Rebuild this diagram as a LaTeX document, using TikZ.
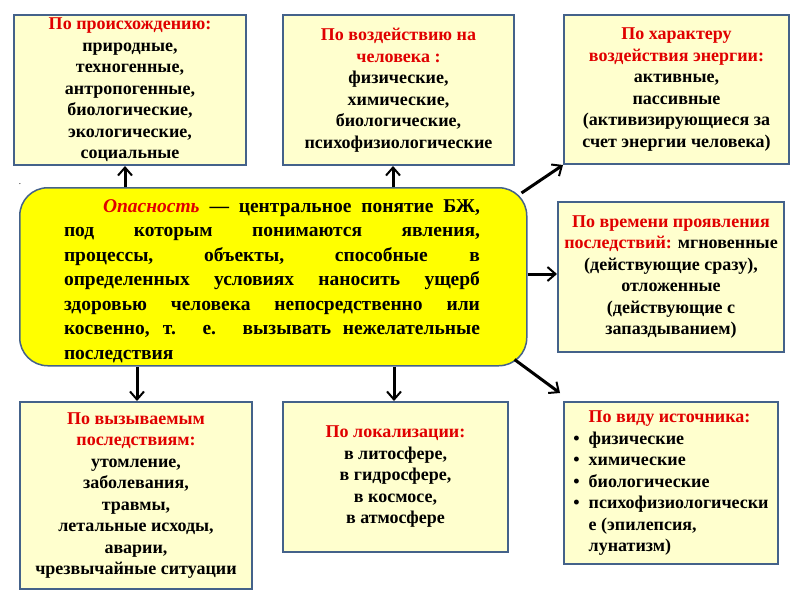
\documentclass[tikz,border=0pt]{standalone}
\usepackage{fontspec}
\setmainfont{Liberation Serif}
\usetikzlibrary{arrows.meta,calc}
\definecolor{boxfill}{RGB}{255,255,206}
\definecolor{boxline}{RGB}{68,98,138}
\definecolor{hred}{RGB}{224,0,0}
\definecolor{yelfill}{RGB}{255,255,0}
\begin{document}
\begin{tikzpicture}[x=1pt,y=-1pt,
  box/.style={draw=boxline, line width=2pt, fill=boxfill, anchor=north west,
    inner sep=0pt, align=center, font=\fontsize{18}{21.5}\selectfont\bfseries},
  arr/.style={line width=3pt, -{Straight Barb[length=8pt,width=14pt,line width=2pt]}}
]
\useasboundingbox (0,0) rectangle (800,600);
\fill[white] (0,0) rectangle (800,600);

% boxes
\node[box, minimum width=232pt, minimum height=150pt] (b1) at (13,14)
  {\textcolor{hred}{По происхождению:}\\природные,\\техногенные,\\антропогенные,\\биологические,\\экологические,\\социальные};
\node[box, minimum width=231pt, minimum height=150pt] (b2) at (282,14)
  {\textcolor{hred}{По воздействию на}\\\textcolor{hred}{человека :}\\физические,\\химические,\\биологические,\\психофизиологические};
\node[box, minimum width=225pt, minimum height=149pt] (b3) at (563,14)
  {\textcolor{hred}{По характеру}\\\textcolor{hred}{воздействия энергии:}\\активные,\\пассивные\\(активизирующиеся за\\счет энергии человека)};
\node[box, minimum width=226pt, minimum height=150pt] (b4) at (557,201)
  {\textcolor{hred}{По времени проявления}\\\textcolor{hred}{последствий:} мгновенные\\(действующие сразу),\\отложенные\\(действующие с\\запаздыванием)};
\node[box, minimum width=232pt, minimum height=187pt] (b5) at (19,401)
  {\textcolor{hred}{По вызываемым}\\\textcolor{hred}{последствиям:}\\утомление,\\заболевания,\\травмы,\\летальные исходы,\\аварии,\\чрезвычайные ситуации};
\node[box, minimum width=225pt, minimum height=150pt] (b6) at (282,401)
  {\textcolor{hred}{По локализации:}\\в литосфере,\\в гидросфере,\\в космосе,\\в атмосфере};
\node[box, minimum width=214pt, minimum height=162pt] (b7) at (563,401)
  {\begin{tabular}{@{}l@{\hspace{9pt}}l@{}}
    & \textcolor{hred}{По виду источника:}\\
    \textbullet & физические\\
    \textbullet & химические\\
    \textbullet & биологические\\
    \textbullet & психофизиологически\\
    & е (эпилепсия,\\
    & лунатизм)
  \end{tabular}};

% central yellow block
\node[draw=boxline, line width=1.5pt, fill=yelfill, rounded corners=28pt,
  anchor=north west, minimum width=507pt, minimum height=178pt, inner sep=0pt] (yel) at (19,187) {};
\node[align=left, inner sep=0pt, font=\fontsize{19.5}{24.5}\selectfont\bfseries] (ytxt) at (272,281)
  {\makebox[416pt][s]{\hspace*{39pt}\textcolor{hred}{\itshape Опасность} — центральное понятие БЖ,}\\
   \makebox[416pt][s]{под которым понимаются явления,}\\
   \makebox[416pt][s]{процессы, объекты, способные в}\\
   \makebox[416pt][s]{определенных условиях наносить ущерб}\\
   \makebox[416pt][s]{здоровью человека непосредственно или}\\
   \makebox[416pt][s]{косвенно, т. е. вызывать нежелательные}\\
   \makebox[416pt][l]{последствия}};
\node[inner sep=0pt, font=\fontsize{9}{9}\selectfont] (dot) at (20,184) {.};

% connectors
\coordinate (xa) at (125,0);
\coordinate (xb) at (393,0);
\coordinate (xc) at (137,0);
\coordinate (xd) at (394,0);
\coordinate (ya) at (0,274);
\draw[arr] (yel.north -| xa) -- (b1.south -| xa);
\draw[arr] (yel.north -| xb) -- (b2.south -| xb);
\draw[arr] ($(yel.north east)+(-6,6)$) -- (b3.south west);
\draw[arr] (yel.east |- ya) -- (b4.west |- ya);
\draw[arr] ($(yel.south east)+(-13,-7)$) -- ($(b7.north west)+(-3,-8)$);
\draw[arr] (yel.south -| xc) -- (b5.north -| xc);
\draw[arr] (yel.south -| xd) -- (b6.north -| xd);
\end{tikzpicture}
\end{document}
